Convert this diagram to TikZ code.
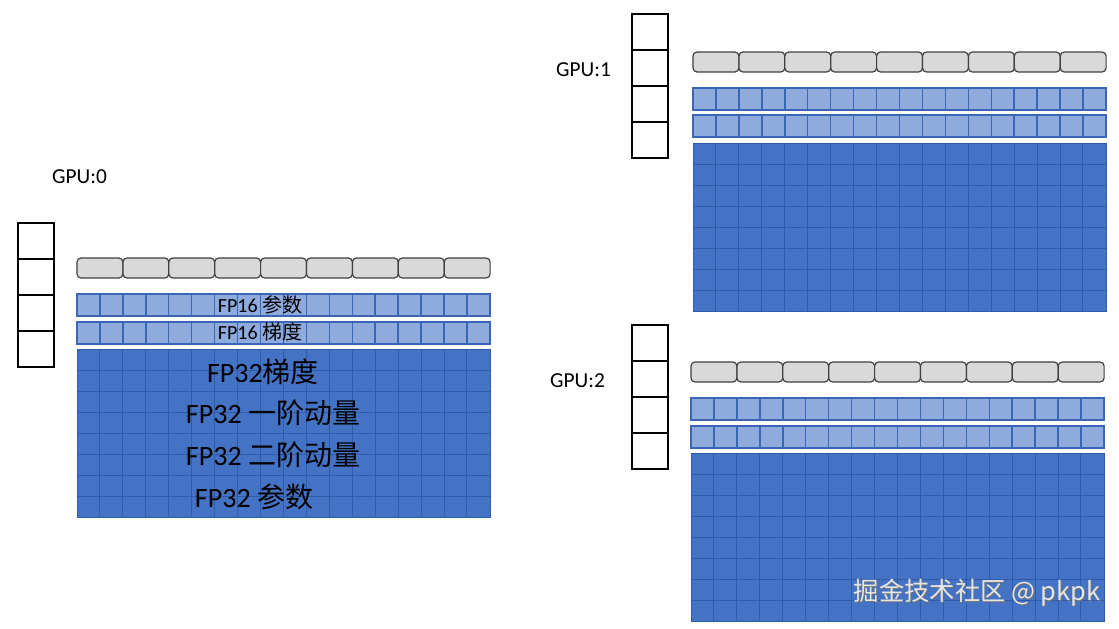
\documentclass[tikz,border=0pt]{standalone}
\usepackage{fontspec}
\setmainfont{Carlito}
\newfontfamily\cjk{Noto Sans CJK SC}
\definecolor{greyfill}{HTML}{D9D9D9}
\definecolor{greyline}{HTML}{404040}
\definecolor{fpsixfill}{HTML}{8FAADC}
\definecolor{fpsixline}{HTML}{3A66B8}
\definecolor{fpthirtyfill}{HTML}{4472C4}
\definecolor{fpthirtyline}{HTML}{2E5CA8}
\tikzset{
  stackcell/.style={draw=black, line width=0.9pt, fill=white},
  greybox/.style={draw=greyline, fill=greyfill, rounded corners=3pt, line width=0.9pt},
  fpsixgrid/.style={draw=fpsixline, line width=1.1pt},
  fpthirtygrid/.style={draw=fpthirtyline, line width=0.75pt},
  gpulabel/.style={font=\fontsize{16}{18}\selectfont, inner sep=0pt},
  smalltext/.style={font=\fontsize{15}{17}\selectfont, inner sep=0pt, text=black},
  bigtext/.style={font=\fontsize{21}{25}\selectfont, inner sep=0pt, text=black},
}
\newcommand\gpumem[7]{%
  \foreach \i in {0,...,3}{\draw[stackcell] (#1,#2+36*\i) rectangle ++(36,36);}
  \foreach \i in {0,...,8}{\draw[greybox] (#3+45.9*\i,#4) rectangle ++(45.9,20);}
  \foreach \yy in {#5,#6}{%
    \fill[fpsixfill] (#3,\yy) rectangle ++(413,22);
    \foreach \i in {1,...,17}{\draw[fpsixgrid] (#3+22.94*\i,\yy) -- ++(0,22);}
    \draw[fpsixgrid] (#3,\yy) rectangle ++(413,22);
  }
  \fill[fpthirtyfill] (#3,#7) rectangle ++(413,168);
  \foreach \i in {1,...,17}{\draw[fpthirtygrid] (#3+22.94*\i,#7) -- ++(0,168);}
  \foreach \j in {1,...,7}{\draw[fpthirtygrid] (#3,#7+21*\j) -- ++(413,0);}
  \draw[fpthirtygrid] (#3,#7) rectangle ++(413,168);
}
\begin{document}
\begin{tikzpicture}[x=0.75pt,y=-0.75pt]
\useasboundingbox[fill=white] (0,0) rectangle (1119,628);
% GPU 0
\gpumem{18}{223}{77}{258}{294}{322}{349}
% GPU 1
\gpumem{632}{14}{693}{52}{88}{115}{143}
% GPU 2
\gpumem{632}{325}{691}{362}{398}{426}{453}
% labels
\node[gpulabel] (gpu0) at (79.5,177) {GPU:0};
\node[gpulabel] (gpu1) at (583.5,70) {GPU:1};
\node[gpulabel] (gpu2) at (577.5,381) {GPU:2};
\node[smalltext] (p16) at (260,305) {FP16 {\cjk 参数}};
\node[smalltext] (g16) at (260,332) {FP16 {\cjk 梯度}};
\node[bigtext] (g32) at (263,372) {FP32{\cjk 梯度}};
\node[bigtext] (m1) at (273,413) {FP32 {\cjk 一阶动量}};
\node[bigtext] (m2) at (273,455) {FP32 {\cjk 二阶动量}};
\node[bigtext] (p32) at (254,497) {FP32 {\cjk 参数}};
% watermark
\node[font=\cjk\fontsize{19}{21}\selectfont, inner sep=0pt, text=black!55] (wmshadow) at (977.8,594) {掘金技术社区 @ pkpk};
\node[font=\cjk\fontsize{19}{21}\selectfont, inner sep=0pt, text=white!90!black] (wm) at (977,593) {掘金技术社区 @ pkpk};
\end{tikzpicture}
\end{document}
